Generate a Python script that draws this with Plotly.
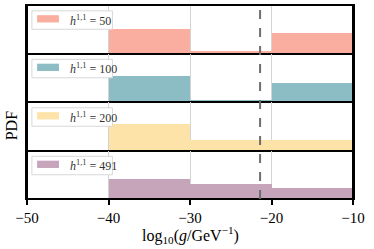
import plotly.graph_objects as go
from plotly.subplots import make_subplots

# ---- data ----
bin_edges = [-40, -30, -20, -10]
h11_values = [50, 100, 200, 491]
pdf_h50 = [0.050, 0.006, 0.042]
pdf_h100 = [0.054, 0.005, 0.040]
pdf_h200 = [0.055, 0.022, 0.022]
pdf_h491 = [0.043, 0.032, 0.024]
series = [pdf_h50, pdf_h100, pdf_h200, pdf_h491]
colors = ["#F9AE9F", "#8DBDC4", "#FEE3A8", "#C6A4B9"]
x_ticks = [-50, -40, -30, -20, -10]
x_ticktext = ["\u221250", "\u221240", "\u221230", "\u221220", "\u221210"]
g_line = -21.4

centers = [(a + b) / 2 for a, b in zip(bin_edges[:-1], bin_edges[1:])]
widths = [b - a for a, b in zip(bin_edges[:-1], bin_edges[1:])]

FONT = "Liberation Serif"

fig = make_subplots(rows=4, cols=1, shared_xaxes=True, vertical_spacing=0)

for i, (vals, col, h) in enumerate(zip(series, colors, h11_values)):
    r = i + 1
    fig.add_trace(go.Bar(x=centers, y=vals, width=widths, marker=dict(color=col, line=dict(width=0)),
                         name=f"h11={h}", showlegend=False, hoverinfo="skip"), row=r, col=1)
    xd = "x domain" if r == 1 else f"x{r} domain"
    yd = "y domain" if r == 1 else f"y{r} domain"
    # legend box
    fig.add_shape(type="rect", xref=xd, yref=yd, x0=0.015, x1=0.262, y0=0.5, y1=0.88,
                  fillcolor="white", line=dict(color="#d8d8d8", width=1), layer="above")
    # legend patch
    fig.add_shape(type="rect", xref=xd, yref=yd, x0=0.031, x1=0.098, y0=0.64, y1=0.79,
                  fillcolor=col, line=dict(width=0), layer="above")
    # legend label
    fig.add_annotation(text=f"<i>h</i><sup>1,1</sup> = {h}", xref=xd, yref=yd, x=0.125, y=0.69,
                       xanchor="left", yanchor="middle", showarrow=False,
                       font=dict(family=FONT, size=12, color="#333"))

for r in range(1, 5):
    fig.update_xaxes(range=[-50, -10], showline=True, mirror=True, linecolor="black", linewidth=1,
                     showgrid=True, gridcolor="#d3d3d3", gridwidth=1,
                     tickvals=x_ticks, ticktext=x_ticktext, zeroline=False, row=r, col=1)
    fig.update_yaxes(range=[0, 0.1], showline=True, mirror=True, linecolor="black", linewidth=2,
                     showgrid=False, showticklabels=False, ticks="", zeroline=False, row=r, col=1)

fig.update_xaxes(ticks="outside", ticklen=5, tickwidth=1.5, tickcolor="black",
                 tickfont=dict(family=FONT, size=15, color="black"),
                 row=4, col=1)

fig.add_annotation(text="log<sub>10</sub>(<i>g</i>/GeV<sup>\u22121</sup>)", xref="paper", yref="paper",
                   x=0.5, y=-0.185, xanchor="center", yanchor="middle", showarrow=False,
                   font=dict(family=FONT, size=16, color="black"))

# outer frame
fig.add_shape(type="rect", xref="paper", yref="paper", x0=0, x1=1, y0=0, y1=1,
              line=dict(color="black", width=2), layer="above")

fig.add_shape(type="line", xref="x", yref="paper", x0=g_line, x1=g_line, y0=0, y1=1,
              line=dict(color="#6e6e6e", width=2, dash="dash"), layer="above")

fig.add_annotation(text="PDF", xref="paper", yref="paper", x=-0.049, y=0.375, textangle=-90,
                   xanchor="center", yanchor="middle",
                   showarrow=False, font=dict(family=FONT, size=16, color="black"))

fig.update_layout(width=374, height=249, margin=dict(l=27, r=21, t=5, b=50, autoexpand=False),
                  plot_bgcolor="white", paper_bgcolor="white", bargap=0, showlegend=False)

fig.write_html("out.html", config={"displayModeBar": False},
               post_script="document.body.style.margin='0px';")
